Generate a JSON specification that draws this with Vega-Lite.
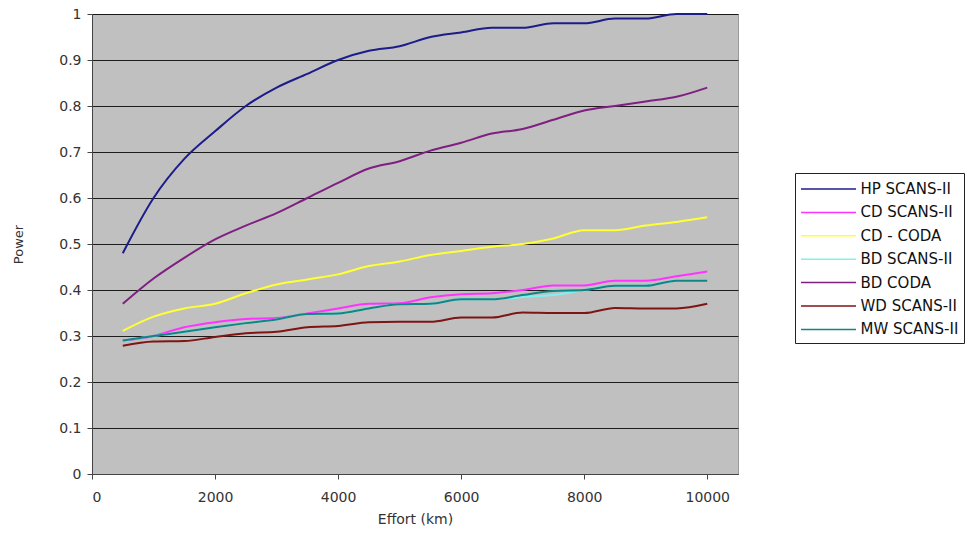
{
  "$schema": "https://vega.github.io/schema/vega-lite/v6.json",
  "width": 646,
  "height": 460,
  "autosize": {"type": "none"},
  "padding": {"left": 92, "top": 14, "right": 242, "bottom": 59},
  "background": "white",
  "config": {
    "font": "DejaVu Sans",
    "view": {"fill": "#C0C0C0", "stroke": "#9a9a9a", "strokeWidth": 1}
  },
  "datasets": {
    "pts": [
      {"series":"HP SCANS-II","effort":500,"power":0.48},{"series":"HP SCANS-II","effort":1000,"power":0.60},{"series":"HP SCANS-II","effort":1500,"power":0.685},{"series":"HP SCANS-II","effort":2000,"power":0.745},{"series":"HP SCANS-II","effort":2500,"power":0.80},{"series":"HP SCANS-II","effort":3000,"power":0.84},{"series":"HP SCANS-II","effort":3500,"power":0.87},{"series":"HP SCANS-II","effort":4000,"power":0.90},{"series":"HP SCANS-II","effort":4500,"power":0.92},{"series":"HP SCANS-II","effort":5000,"power":0.93},{"series":"HP SCANS-II","effort":5500,"power":0.95},{"series":"HP SCANS-II","effort":6000,"power":0.96},{"series":"HP SCANS-II","effort":6500,"power":0.97},{"series":"HP SCANS-II","effort":7000,"power":0.97},{"series":"HP SCANS-II","effort":7500,"power":0.98},{"series":"HP SCANS-II","effort":8000,"power":0.98},{"series":"HP SCANS-II","effort":8500,"power":0.99},{"series":"HP SCANS-II","effort":9000,"power":0.99},{"series":"HP SCANS-II","effort":9500,"power":1.0},{"series":"HP SCANS-II","effort":10000,"power":1.0},

      {"series":"CD SCANS-II","effort":500,"power":0.29},{"series":"CD SCANS-II","effort":1000,"power":0.30},{"series":"CD SCANS-II","effort":1500,"power":0.319},{"series":"CD SCANS-II","effort":2000,"power":0.33},{"series":"CD SCANS-II","effort":2500,"power":0.337},{"series":"CD SCANS-II","effort":3000,"power":0.339},{"series":"CD SCANS-II","effort":3500,"power":0.349},{"series":"CD SCANS-II","effort":4000,"power":0.36},{"series":"CD SCANS-II","effort":4500,"power":0.37},{"series":"CD SCANS-II","effort":5000,"power":0.371},{"series":"CD SCANS-II","effort":5500,"power":0.384},{"series":"CD SCANS-II","effort":6000,"power":0.391},{"series":"CD SCANS-II","effort":6500,"power":0.393},{"series":"CD SCANS-II","effort":7000,"power":0.40},{"series":"CD SCANS-II","effort":7500,"power":0.41},{"series":"CD SCANS-II","effort":8000,"power":0.41},{"series":"CD SCANS-II","effort":8500,"power":0.42},{"series":"CD SCANS-II","effort":9000,"power":0.42},{"series":"CD SCANS-II","effort":9500,"power":0.43},{"series":"CD SCANS-II","effort":10000,"power":0.44},

      {"series":"CD - CODA","effort":500,"power":0.311},{"series":"CD - CODA","effort":1000,"power":0.342},{"series":"CD - CODA","effort":1500,"power":0.36},{"series":"CD - CODA","effort":2000,"power":0.37},{"series":"CD - CODA","effort":2500,"power":0.393},{"series":"CD - CODA","effort":3000,"power":0.412},{"series":"CD - CODA","effort":3500,"power":0.423},{"series":"CD - CODA","effort":4000,"power":0.434},{"series":"CD - CODA","effort":4500,"power":0.452},{"series":"CD - CODA","effort":5000,"power":0.462},{"series":"CD - CODA","effort":5500,"power":0.476},{"series":"CD - CODA","effort":6000,"power":0.485},{"series":"CD - CODA","effort":6500,"power":0.494},{"series":"CD - CODA","effort":7000,"power":0.50},{"series":"CD - CODA","effort":7500,"power":0.512},{"series":"CD - CODA","effort":8000,"power":0.53},{"series":"CD - CODA","effort":8500,"power":0.53},{"series":"CD - CODA","effort":9000,"power":0.54},{"series":"CD - CODA","effort":9500,"power":0.548},{"series":"CD - CODA","effort":10000,"power":0.558},

      {"series":"BD SCANS-II","effort":500,"power":0.29},{"series":"BD SCANS-II","effort":1000,"power":0.30},{"series":"BD SCANS-II","effort":1500,"power":0.309},{"series":"BD SCANS-II","effort":2000,"power":0.319},{"series":"BD SCANS-II","effort":2500,"power":0.328},{"series":"BD SCANS-II","effort":3000,"power":0.336},{"series":"BD SCANS-II","effort":3500,"power":0.348},{"series":"BD SCANS-II","effort":4000,"power":0.349},{"series":"BD SCANS-II","effort":4500,"power":0.36},{"series":"BD SCANS-II","effort":5000,"power":0.369},{"series":"BD SCANS-II","effort":5500,"power":0.37},{"series":"BD SCANS-II","effort":6000,"power":0.38},{"series":"BD SCANS-II","effort":6500,"power":0.38},{"series":"BD SCANS-II","effort":7000,"power":0.385},{"series":"BD SCANS-II","effort":7500,"power":0.389},{"series":"BD SCANS-II","effort":8000,"power":0.40},{"series":"BD SCANS-II","effort":8500,"power":0.409},{"series":"BD SCANS-II","effort":9000,"power":0.409},{"series":"BD SCANS-II","effort":9500,"power":0.42},{"series":"BD SCANS-II","effort":10000,"power":0.42},

      {"series":"BD CODA","effort":500,"power":0.37},{"series":"BD CODA","effort":1000,"power":0.425},{"series":"BD CODA","effort":1500,"power":0.47},{"series":"BD CODA","effort":2000,"power":0.51},{"series":"BD CODA","effort":2500,"power":0.54},{"series":"BD CODA","effort":3000,"power":0.567},{"series":"BD CODA","effort":3500,"power":0.60},{"series":"BD CODA","effort":4000,"power":0.633},{"series":"BD CODA","effort":4500,"power":0.664},{"series":"BD CODA","effort":5000,"power":0.68},{"series":"BD CODA","effort":5500,"power":0.703},{"series":"BD CODA","effort":6000,"power":0.72},{"series":"BD CODA","effort":6500,"power":0.74},{"series":"BD CODA","effort":7000,"power":0.75},{"series":"BD CODA","effort":7500,"power":0.77},{"series":"BD CODA","effort":8000,"power":0.79},{"series":"BD CODA","effort":8500,"power":0.80},{"series":"BD CODA","effort":9000,"power":0.81},{"series":"BD CODA","effort":9500,"power":0.82},{"series":"BD CODA","effort":10000,"power":0.84},

      {"series":"WD SCANS-II","effort":500,"power":0.279},{"series":"WD SCANS-II","effort":1000,"power":0.288},{"series":"WD SCANS-II","effort":1500,"power":0.289},{"series":"WD SCANS-II","effort":2000,"power":0.298},{"series":"WD SCANS-II","effort":2500,"power":0.306},{"series":"WD SCANS-II","effort":3000,"power":0.309},{"series":"WD SCANS-II","effort":3500,"power":0.319},{"series":"WD SCANS-II","effort":4000,"power":0.322},{"series":"WD SCANS-II","effort":4500,"power":0.33},{"series":"WD SCANS-II","effort":5000,"power":0.331},{"series":"WD SCANS-II","effort":5500,"power":0.331},{"series":"WD SCANS-II","effort":6000,"power":0.34},{"series":"WD SCANS-II","effort":6500,"power":0.34},{"series":"WD SCANS-II","effort":7000,"power":0.351},{"series":"WD SCANS-II","effort":7500,"power":0.35},{"series":"WD SCANS-II","effort":8000,"power":0.35},{"series":"WD SCANS-II","effort":8500,"power":0.361},{"series":"WD SCANS-II","effort":9000,"power":0.36},{"series":"WD SCANS-II","effort":9500,"power":0.36},{"series":"WD SCANS-II","effort":10000,"power":0.37},

      {"series":"MW SCANS-II","effort":500,"power":0.29},{"series":"MW SCANS-II","effort":1000,"power":0.30},{"series":"MW SCANS-II","effort":1500,"power":0.309},{"series":"MW SCANS-II","effort":2000,"power":0.319},{"series":"MW SCANS-II","effort":2500,"power":0.328},{"series":"MW SCANS-II","effort":3000,"power":0.336},{"series":"MW SCANS-II","effort":3500,"power":0.348},{"series":"MW SCANS-II","effort":4000,"power":0.349},{"series":"MW SCANS-II","effort":4500,"power":0.36},{"series":"MW SCANS-II","effort":5000,"power":0.369},{"series":"MW SCANS-II","effort":5500,"power":0.37},{"series":"MW SCANS-II","effort":6000,"power":0.38},{"series":"MW SCANS-II","effort":6500,"power":0.38},{"series":"MW SCANS-II","effort":7000,"power":0.389},{"series":"MW SCANS-II","effort":7500,"power":0.398},{"series":"MW SCANS-II","effort":8000,"power":0.40},{"series":"MW SCANS-II","effort":8500,"power":0.409},{"series":"MW SCANS-II","effort":9000,"power":0.409},{"series":"MW SCANS-II","effort":9500,"power":0.42},{"series":"MW SCANS-II","effort":10000,"power":0.42}
    ]
  },
  "data": {"name": "pts"},
  "mark": {"type": "line", "interpolate": "monotone", "strokeWidth": 2},
  "encoding": {
    "x": {
      "field": "effort", "type": "quantitative",
      "scale": {"domain": [0, 10500], "nice": false},
      "axis": {
        "title": "Effort (km)", "values": [0, 2000, 4000, 6000, 8000, 10000], "format": "d",
        "grid": false, "domainColor": "#444", "tickColor": "#444", "tickSize": 5,
        "labelFontSize": 14, "labelColor": "#333", "labelPadding": 11,
        "titleFontSize": 14, "titleFontWeight": "normal", "titleColor": "#333", "titlePadding": 8
      }
    },
    "y": {
      "field": "power", "type": "quantitative",
      "scale": {"domain": [0, 1], "nice": false},
      "axis": {
        "title": "Power", "values": [0, 0.1, 0.2, 0.3, 0.4, 0.5, 0.6, 0.7, 0.8, 0.9, 1], "format": "~g",
        "grid": true, "gridColor": "#000", "gridOpacity": 0.85, "gridWidth": 1,
        "domainColor": "#444", "tickColor": "#444", "tickSize": 5,
        "labelFontSize": 14, "labelColor": "#333", "labelPadding": 6,
        "titleFontSize": 13, "titleFontWeight": "normal", "titleColor": "#333", "titlePadding": 33
      }
    },
    "color": {
      "field": "series", "type": "nominal",
      "scale": {
        "domain": ["HP SCANS-II", "CD SCANS-II", "CD - CODA", "BD SCANS-II", "BD CODA", "WD SCANS-II", "MW SCANS-II"],
        "range": ["#1c1c8a", "#ff33ff", "#ffff33", "#80f0f0", "#7f1f80", "#7f1414", "#108585"]
      },
      "legend": {
        "title": null, "orient": "none", "legendX": 703, "legendY": 159,
        "symbolType": "M-2.75,0H2.75", "symbolSize": 400, "symbolStrokeWidth": 1.5, "symbolOffset": 17.5,
        "labelFontSize": 15, "labelColor": "#111", "labelOffset": 21,
        "rowPadding": 4.4, "padding": 5,
        "fillColor": "white", "strokeColor": "#222"
      }
    }
  }
}
